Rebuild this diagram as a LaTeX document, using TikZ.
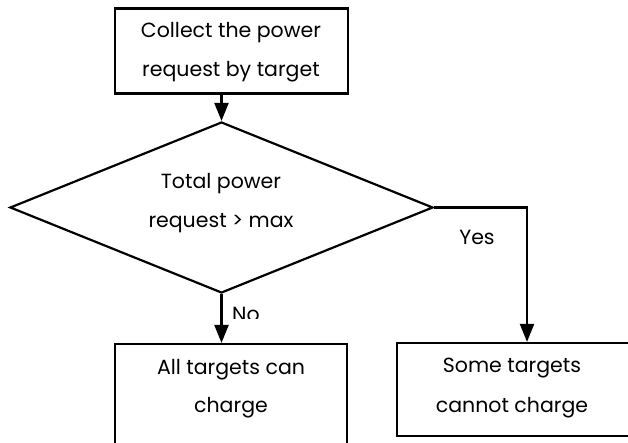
\documentclass[tikz,border=0pt]{standalone}
\usepackage{fontspec}
\setmainfont{Poppins}
\usetikzlibrary{arrows.meta,shapes.geometric}
\begin{document}
\begin{tikzpicture}[x=1pt,y=-1pt,
  line width=2.2pt,
  box/.style={draw,rectangle,inner sep=0pt},
  txt/.style={align=center,inner sep=0pt,font=\fontsize{20.5}{39}\selectfont},
  lbl/.style={font=\fontsize{20.5}{24}\selectfont,inner sep=0pt},
  arr/.style={-{Triangle[length=18pt,width=14pt]}}]
\useasboundingbox (0,0) rectangle (628,443);
\clip (0,0) rectangle (628,443);
\fill[white] (0,0) rectangle (628,443);
\node[box,minimum width=233pt,minimum height=85pt] (collect) at (231.5,51) {};
\node[txt] (ctext) at (231,52) {Collect the power\\request by target};
\node[draw,diamond,aspect=2.4737,inner sep=0pt,minimum width=423pt,minimum height=171pt] (decide) at (221.5,207.5) {};
\node[txt] (dtext) at (221,203.5) {Total power\\request > max};
\node[box,minimum width=232pt,minimum height=110pt] (all) at (231,399) {};
\node[txt,font=\fontsize{20.5}{38}\selectfont] (alltext) at (231,389) {All targets can\\charge};
\node[box,minimum width=243pt,minimum height=93pt] (some) at (518.5,389.5) {};
\node[txt,font=\fontsize{20.5}{40}\selectfont] (sometext) at (512,388) {Some targets\\cannot charge};
\coordinate (corner) at (decide.east -| 527,0);
\draw[arr] (collect.south -| decide.north) -- (decide.north);
\draw[arr] (decide.south) -- (decide.south |- all.north);
\begin{scope}
\clip (228,296) rectangle (300,318);
\node[lbl] (no) at (246,314) {No};
\end{scope}
\draw[arr] (decide.east) -- (corner) -- (corner |- some.north);
\node[lbl] (yes) at (477,237) {Yes};
\end{tikzpicture}
\end{document}
